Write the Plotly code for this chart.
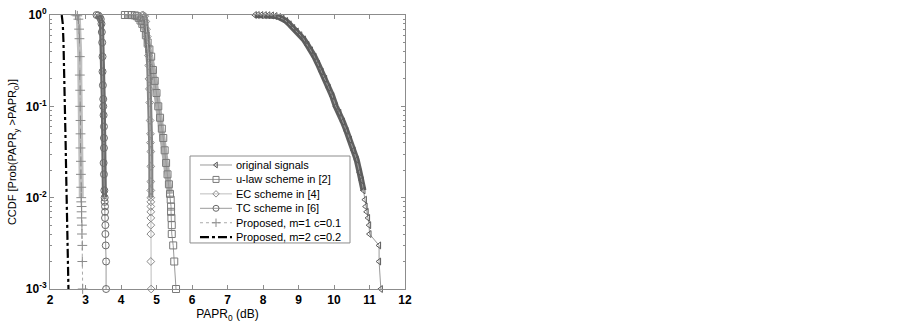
import plotly.graph_objects as go

# ---------------- data ----------------
orig_x = [7.77, 7.85, 7.95, 8.05, 8.15, 8.25, 8.35, 8.45, 8.55, 8.65, 8.75, 8.85, 8.95, 9.05,
          9.15, 9.25, 9.35, 9.45, 9.55, 9.65, 9.75, 9.85, 9.95, 10.05, 10.15, 10.25, 10.35,
          10.45, 10.55, 10.64, 10.72, 10.78, 10.83, 10.87, 10.89, 10.92, 10.96, 10.99, 11.0,
          11.27, 11.27, 11.32]
orig_y = [1.0, 1.0, 0.999, 0.998, 0.995, 0.99, 0.975, 0.95, 0.91, 0.86, 0.79, 0.72, 0.66, 0.6,
          0.54, 0.47, 0.41, 0.35, 0.29, 0.24, 0.2, 0.16, 0.13, 0.10, 0.085, 0.068, 0.054,
          0.043, 0.033, 0.026, 0.019, 0.0155, 0.012, 0.0095, 0.008, 0.007, 0.006, 0.005, 0.004,
          0.003, 0.002, 0.001]

ulaw_x = [4.11, 4.2, 4.3, 4.39, 4.45, 4.5, 4.55, 4.6, 4.65, 4.7, 4.75, 4.8, 4.85, 4.9, 4.95,
          5.0, 5.05, 5.1, 5.15, 5.19, 5.23, 5.27, 5.31, 5.35, 5.38, 5.40, 5.41, 5.41, 5.42,
          5.43, 5.43, 5.47, 5.50, 5.55]
ulaw_y = [1.0, 1.0, 0.998, 0.99, 0.97, 0.93, 0.87, 0.8, 0.72, 0.6, 0.5, 0.42, 0.35, 0.25, 0.19,
          0.14, 0.1, 0.075, 0.057, 0.045, 0.033, 0.024, 0.018, 0.014, 0.011, 0.0095, 0.008,
          0.007, 0.006, 0.005, 0.004, 0.003, 0.002, 0.001]

ec_x = [4.60, 4.63, 4.67, 4.70, 4.72, 4.74, 4.76, 4.77, 4.78, 4.79, 4.80, 4.81, 4.82, 4.83,
        4.83, 4.84, 4.84, 4.84, 4.84, 4.84, 4.84, 4.84, 4.84, 4.84, 4.84, 4.84, 4.84, 4.85]
ec_y = [1.0, 0.995, 0.97, 0.85, 0.7, 0.58, 0.45, 0.36, 0.28, 0.2, 0.155, 0.11, 0.07, 0.05,
        0.04, 0.032, 0.022, 0.015, 0.012, 0.01, 0.009, 0.008, 0.007, 0.006, 0.005, 0.004,
        0.002, 0.001]

tc_x = [3.31, 3.36, 3.40, 3.43, 3.45, 3.46, 3.47, 3.48, 3.48, 3.49, 3.50, 3.50, 3.51, 3.52,
        3.52, 3.52, 3.51, 3.52, 3.53, 3.54, 3.54, 3.55, 3.55, 3.55, 3.56, 3.56, 3.57, 3.58,
        3.58]
tc_y = [1.0, 0.99, 0.95, 0.9, 0.8, 0.65, 0.5, 0.35, 0.24, 0.17, 0.12, 0.1, 0.08, 0.06, 0.045,
        0.035, 0.024, 0.018, 0.012, 0.01, 0.009, 0.008, 0.007, 0.006, 0.005, 0.004, 0.003,
        0.002, 0.001]

p1_x = [2.72, 2.77, 2.80, 2.82, 2.83, 2.84, 2.84, 2.85, 2.85, 2.86, 2.86, 2.86, 2.87, 2.87,
        2.88, 2.88, 2.88, 2.89, 2.89, 2.89, 2.90, 2.90, 2.91, 2.91, 2.92]
p1_y = [1.0, 0.98, 0.9, 0.7, 0.55, 0.35, 0.22, 0.15, 0.1, 0.07, 0.05, 0.035, 0.025, 0.018,
        0.013, 0.01, 0.009, 0.008, 0.007, 0.006, 0.005, 0.004, 0.003, 0.002, 0.001]

p2_x = [2.33, 2.36, 2.38, 2.40, 2.42, 2.44, 2.46, 2.47, 2.49, 2.50, 2.52]
p2_y = [1.0, 0.8, 0.5, 0.25, 0.1, 0.04, 0.015, 0.01, 0.005, 0.003, 0.001]

names = ["original signals", "u-law scheme in [2]", "EC scheme in [4]", "TC scheme in [6]",
         "Proposed, m=1 c=0.1", "Proposed, m=2 c=0.2"]

x_ticks = [2, 3, 4, 5, 6, 7, 8, 9, 10, 11, 12]
y_ticks = [1, 0.1, 0.01, 0.001]
y_ticktext = ["10<sup>0</sup>", "10<sup>-1</sup>", "10<sup>-2</sup>", "10<sup>-3</sup>"]

# ---------------- styles ----------------
styles = [
    dict(x=orig_x, y=orig_y, symbol="triangle-left-open", mcol="#5a5a5a", lcol="#9a9a9a",
         dash="solid", lw=1, msize=6, band="#454545", bw=6),
    dict(x=ulaw_x, y=ulaw_y, symbol="square-open", mcol="#7a7a7a", lcol="#9a9a9a",
         dash="solid", lw=1, msize=7, band="#a0a0a0", bw=6),
    dict(x=ec_x, y=ec_y, symbol="diamond-open", mcol="#8a8a8a", lcol="#bdbdbd",
         dash="solid", lw=1, msize=6, band="#6e6e6e", bw=5),
    dict(x=tc_x, y=tc_y, symbol="circle-open", mcol="#6a6a6a", lcol="#9a9a9a",
         dash="solid", lw=1, msize=7, band="#505050", bw=5),
    dict(x=p1_x, y=p1_y, symbol="cross-thin-open", mcol="#8a8a8a", lcol="#aaaaaa",
         dash="dot", lw=1, msize=7, band="#b4b4b4", bw=5),
    dict(x=p2_x, y=p2_y, symbol=None, mcol="#000000", lcol="#000000",
         dash="dashdot", lw=2.2, msize=0, band=None, bw=0),
]

fig = go.Figure()

for name, s in zip(names, styles):
    if s["band"]:
        bx = [xv for xv, yv in zip(s["x"], s["y"]) if yv >= 0.01]
        by = [yv for yv in s["y"] if yv >= 0.01]
        fig.add_trace(go.Scatter(x=bx, y=by, mode="lines", showlegend=False,
                                 line=dict(color=s["band"], width=s["bw"]),
                                 hoverinfo="skip", cliponaxis=False, opacity=0.85))
    if s["symbol"]:
        fig.add_trace(go.Scatter(
            x=s["x"], y=s["y"], mode="lines+markers", name=name, showlegend=False,
            line=dict(color=s["lcol"], width=s["lw"], dash=s["dash"]),
            marker=dict(symbol=s["symbol"], size=s["msize"], color=s["mcol"],
                        line=dict(color=s["mcol"], width=1)),
            cliponaxis=False))
    else:
        fig.add_trace(go.Scatter(
            x=s["x"], y=s["y"], mode="lines", name=name, showlegend=False,
            line=dict(color=s["lcol"], width=s["lw"], dash=s["dash"]),
            cliponaxis=False))

# ---------------- hand-drawn legend (MATLAB style, compact rows) ----------------
leg_box = dict(x0=0.3944, x1=0.8451, y0=0.168, y1=0.4854)
row_top = 0.4526
row_step = 0.0527
line_x0, line_x1, mark_x, text_x = 0.4225, 0.5127, 0.4676, 0.518

shapes = [dict(type="rect", xref="paper", yref="paper", layer="below",
               line=dict(color="#8c8c8c", width=1), fillcolor="white", **leg_box)]
annotations = []
for i, (name, s) in enumerate(zip(names, styles)):
    yy = row_top - i * row_step
    shapes.append(dict(type="line", xref="paper", yref="paper", layer="below",
                       x0=line_x0, x1=line_x1, y0=yy, y1=yy,
                       line=dict(color=s["lcol"], width=s["lw"], dash=s["dash"])))
    annotations.append(dict(xref="paper", yref="paper", x=text_x, y=yy, text=name,
                            showarrow=False, xanchor="left", yanchor="middle",
                            font=dict(family="Liberation Sans, Arial", size=11, color="black")))
    if s["symbol"]:
        fig.add_trace(go.Scatter(x=[mark_x], y=[yy], xaxis="x2", yaxis="y2", mode="markers",
                                 showlegend=False, hoverinfo="skip",
                                 marker=dict(symbol=s["symbol"], size=s["msize"] - 1,
                                             color=s["mcol"],
                                             line=dict(color=s["mcol"], width=1))))

axis_col = "#8c8c8c"
tick_font = dict(family="Liberation Sans, Arial", size=12, color="black")

fig.update_layout(
    width=900, height=329,
    margin=dict(l=50, r=495, t=15, b=40),
    paper_bgcolor="white", plot_bgcolor="white",
    showlegend=False,
    shapes=shapes, annotations=annotations,
    xaxis=dict(range=[2, 12], tickvals=x_ticks, ticktext=[f"<b>{v}</b>" for v in x_ticks],
               automargin=False, ticklabeloverflow="allow",
               ticks="inside", ticklen=4, tickcolor=axis_col, showline=True,
               linecolor=axis_col, linewidth=1, mirror="ticks", showgrid=False, zeroline=False,
               tickfont=tick_font,
               title=dict(text="PAPR<sub>0</sub> (dB)", standoff=0,
                          font=dict(family="Liberation Sans, Arial", size=12, color="black"))),
    yaxis=dict(type="log", range=[-3, 0], tickvals=y_ticks,
               ticktext=[f"<b>{t}</b>" for t in y_ticktext],
               automargin=False, ticklabeloverflow="allow",
               ticks="inside", ticklen=4, tickcolor=axis_col, showline=True,
               linecolor=axis_col, linewidth=1, mirror="ticks", showgrid=False, zeroline=False,
               tickfont=tick_font,
               minor=dict(ticks="inside", ticklen=2, tickcolor=axis_col,
                          tickvals=[m * 10 ** e for e in (-3, -2, -1) for m in range(2, 10)]),
               title=dict(text="CCDF [Prob(PAPR<sub>y</sub> >PAPR<sub>0</sub>)]", standoff=6,
                          font=dict(family="Liberation Sans, Arial", size=11, color="black"))),
    xaxis2=dict(overlaying="x", range=[0, 1], visible=False, automargin=False),
    yaxis2=dict(overlaying="y", range=[0, 1], visible=False, automargin=False),
)

# remove the browser's default 8px body margin so the figure fills the 900x329 window
fig.write_html("out.html", config={"displayModeBar": False},
               post_script="document.body.style.margin='0';")
